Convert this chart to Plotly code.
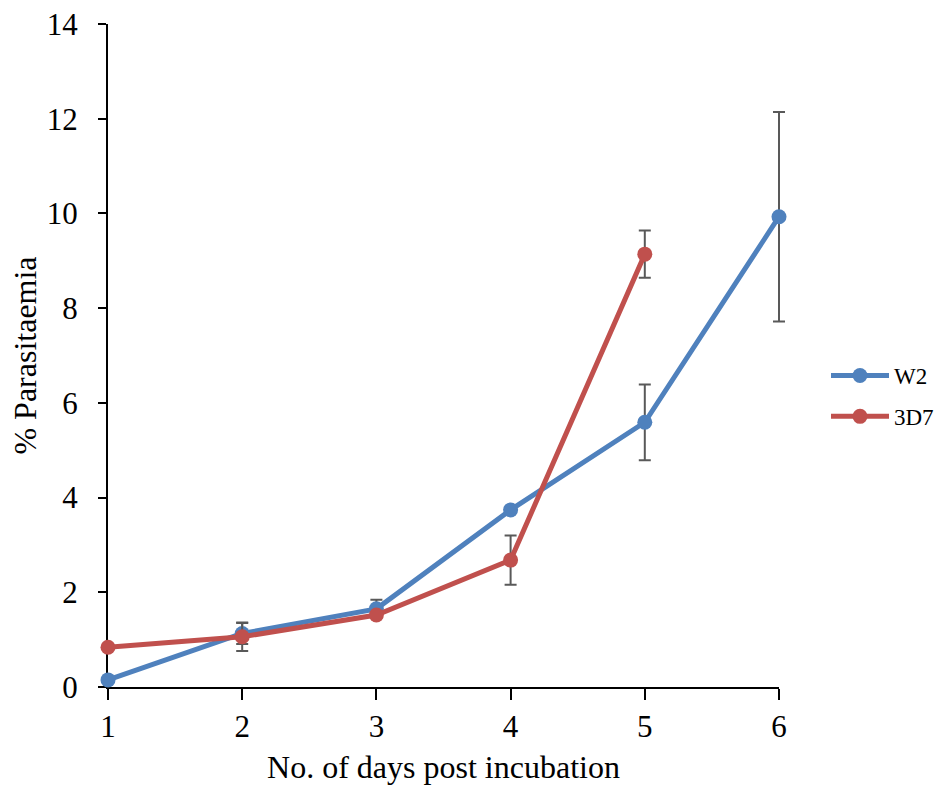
import plotly.graph_objects as go

# Growth of two parasite strains over days post incubation
days_w2 = [1, 2, 3, 4, 5, 6]
w2_mean = [0.15, 1.13, 1.65, 3.74, 5.59, 9.93]
w2_err = [0.0, 0.22, 0.19, 0.0, 0.80, 2.21]

days_3d7 = [1, 2, 3, 4, 5]
d3d7_mean = [0.84, 1.06, 1.52, 2.68, 9.14]
d3d7_err = [0.0, 0.30, 0.0, 0.52, 0.50]

x_ticks = [1, 2, 3, 4, 5, 6]
y_ticks = [0, 2, 4, 6, 8, 10, 12, 14]

BLUE = "#4F81BD"
RED = "#C0504D"
ERR = "#595959"
FONT = "Liberation Serif"

W, H = 940, 785
ML, MR, MT, MB = 88, 141, 24, 98
PAD = 20  # extra room so error bars at the axis ends are not clipped
plot_w = W - ML - MR
x_lo, x_hi = x_ticks[0], x_ticks[-1]
unit_px = (plot_w - 2 * PAD) / (x_hi - x_lo)
pad_units = PAD / unit_px

fig = go.Figure()

# empty trace that registers the visible axes' subplot
fig.add_trace(go.Scatter(x=[], y=[], xaxis="x", yaxis="y", showlegend=False,
                         hoverinfo="skip"))

for name, xs, ys, errs, col, grp in [
    ("W2", days_w2, w2_mean, w2_err, BLUE, "a"),
    ("3D7", days_3d7, d3d7_mean, d3d7_err, RED, "b"),
]:
    fig.add_trace(go.Scatter(
        x=xs, y=ys, name=name, mode="lines+markers",
        xaxis="x2", yaxis="y",
        line=dict(color=col, width=5),
        marker=dict(color=col, size=15),
        error_y=dict(type="data", array=errs, color=ERR, thickness=2, width=6),
        cliponaxis=False, legendgroup=grp,
    ))

fig.update_layout(
    width=W, height=H,
    margin=dict(l=ML, r=MR, t=MT, b=MB, autoexpand=False),
    paper_bgcolor="white", plot_bgcolor="rgba(0,0,0,0)",
    font=dict(family=FONT, size=31, color="black"),
    showlegend=True,
    legend=dict(
        xref="container", yref="container",
        x=826 / W, y=1 - 396 / H, xanchor="left", yanchor="middle",
        font=dict(family=FONT, size=23, color="black"),
        itemwidth=58, tracegroupgap=8,
        bgcolor="rgba(0,0,0,0)",
    ),
    xaxis=dict(
        domain=[PAD / plot_w, 1 - PAD / plot_w],
        range=[x_lo, x_hi], tickvals=x_ticks, ticktext=[str(v) for v in x_ticks],
        anchor="y",
        showline=True, linecolor="black", linewidth=2,
        ticks="outside", ticklen=11, tickwidth=2, tickcolor="black",
        ticklabelstandoff=0,
        showgrid=False, zeroline=False,
        title=dict(text="No. of days post incubation", standoff=12,
                   font=dict(family=FONT, size=32)),
        tickfont=dict(family=FONT, size=31),
    ),
    xaxis2=dict(
        domain=[0, 1], range=[x_lo - pad_units, x_hi + pad_units],
        anchor="y", visible=False,
        showgrid=False, zeroline=False,
    ),
    yaxis=dict(
        range=[0, 14], tickvals=y_ticks, ticktext=[str(v) for v in y_ticks],
        anchor="x",
        showline=True, linecolor="black", linewidth=2,
        ticks="outside", ticklen=8, tickwidth=2, tickcolor="black",
        ticklabelstandoff=14,
        showgrid=False, zeroline=False,
        title=dict(text="% Parasitaemia", standoff=1,
                   font=dict(family=FONT, size=32)),
        tickfont=dict(family=FONT, size=31),
    ),
)

fig.write_html("out.html")
